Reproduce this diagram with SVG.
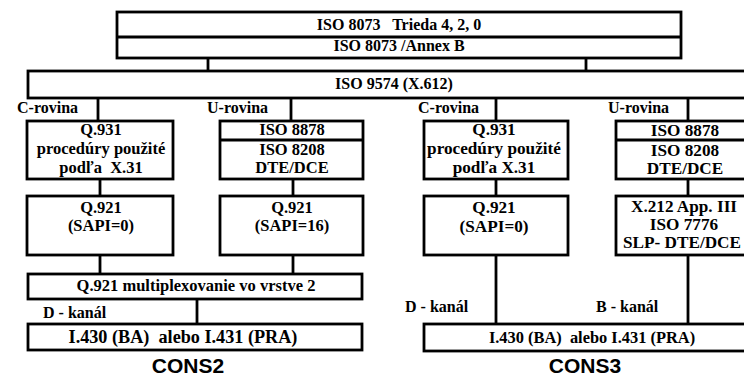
<svg xmlns="http://www.w3.org/2000/svg" width="744" height="379" viewBox="0 0 744 379">
  <style>
    .box { fill: #fff; stroke: #000; stroke-width: 2.8; }
    .rule { stroke: #000; stroke-width: 2.8; fill: none; }
    .link { stroke: #000; stroke-width: 2.8; fill: none; }
    text { font-family: "Liberation Serif", "Times New Roman", serif; font-weight: bold; font-size: 16px; fill: #000; white-space: pre; }
    .c { text-anchor: middle; }
    .l { font-size: 16.5px; }
    .r { font-size: 17.2px; }
    .title { font-family: "Liberation Sans", Arial, sans-serif; font-size: 21px; text-anchor: middle; }
  </style>

  <!-- connectors -->
  <g id="connectors">
    <line class="link" x1="208" y1="58" x2="208" y2="73"/>
    <line class="link" x1="586" y1="58" x2="586" y2="73"/>
    <line class="link" x1="98" y1="98" x2="98" y2="121"/>
    <line class="link" x1="291" y1="98" x2="291" y2="121"/>
    <line class="link" x1="496" y1="98" x2="496" y2="121"/>
    <line class="link" x1="688" y1="98" x2="688" y2="121"/>
    <line class="link" x1="100" y1="179" x2="100" y2="196"/>
    <line class="link" x1="293" y1="179" x2="293" y2="196"/>
    <line class="link" x1="496" y1="179" x2="496" y2="196"/>
    <line class="link" x1="688" y1="179" x2="688" y2="196"/>
    <line class="link" x1="100" y1="255" x2="100" y2="274"/>
    <line class="link" x1="293" y1="255" x2="293" y2="274"/>
    <line class="link" x1="197" y1="299" x2="197" y2="324"/>
    <line class="link" x1="496" y1="255" x2="496" y2="324"/>
    <line class="link" x1="688" y1="255" x2="688" y2="324"/>
  </g>

  <!-- transport layer -->
  <g id="iso8073">
    <rect class="box" x="117" y="12" width="564" height="46"/>
    <line class="rule" x1="117" y1="37" x2="681" y2="37"/>
    <text class="c" x="399" y="30">ISO 8073   Trieda 4, 2, 0</text>
    <text class="c" x="399" y="51">ISO 8073 /Annex B</text>
  </g>

  <g id="iso9574">
    <rect class="box" x="28" y="71" width="730" height="27"/>
    <text class="c" x="394" y="89">ISO 9574 (X.612)</text>
  </g>

  <!-- plane labels -->
  <g id="labels">
    <text x="17" y="113">C-rovina</text>
    <text x="207" y="113">U-rovina</text>
    <text x="418" y="113">C-rovina</text>
    <text x="608" y="113">U-rovina</text>
    <text x="43" y="318">D - kanál</text>
    <text x="405" y="312">D - kanál</text>
    <text x="596" y="312">B - kanál</text>
  </g>

  <!-- CONS2 stack -->
  <g id="q931-a">
    <rect class="box" x="27" y="121" width="146" height="58"/>
    <text class="c l" x="101" y="135">Q.931</text>
    <text class="c l" x="101" y="154">procedúry použité</text>
    <text class="c l" x="101" y="173">podľa  X.31</text>
  </g>
  <g id="iso8878-a">
    <rect class="box" x="220" y="121" width="143" height="58"/>
    <line class="rule" x1="220" y1="140" x2="363" y2="140"/>
    <text class="c l" x="292" y="135">ISO 8878</text>
    <text class="c l" x="292" y="155">ISO 8208</text>
    <text class="c l" x="292" y="173">DTE/DCE</text>
  </g>
  <g id="q921-a">
    <rect class="box" x="27" y="196" width="146" height="59"/>
    <text class="c l" x="101" y="213">Q.921</text>
    <text class="c l" x="101" y="231">(SAPI=0)</text>
  </g>
  <g id="q921-b">
    <rect class="box" x="220" y="196" width="143" height="59"/>
    <text class="c l" x="292" y="213">Q.921</text>
    <text class="c l" x="292" y="231">(SAPI=16)</text>
  </g>
  <g id="mux">
    <rect class="box" x="28" y="274" width="334" height="25"/>
    <text class="c l" x="196" y="291">Q.921 multiplexovanie vo vrstve 2</text>
  </g>
  <g id="phy-a">
    <rect class="box" x="28" y="324" width="334" height="26"/>
    <text class="c" x="183" y="343" style="font-size:18.2px">I.430 (BA)  alebo I.431 (PRA)</text>
  </g>
  <text id="cons2" class="title" x="188" y="373">CONS2</text>

  <!-- CONS3 stack -->
  <g id="q931-b">
    <rect class="box" x="424" y="121" width="144" height="58"/>
    <text class="c r" x="494" y="135">Q.931</text>
    <text class="c r" x="494" y="154">procedúry použité</text>
    <text class="c r" x="494" y="173">podľa X.31</text>
  </g>
  <g id="iso8878-b">
    <rect class="box" x="616" y="121" width="140" height="58"/>
    <line class="rule" x1="616" y1="140" x2="756" y2="140"/>
    <text class="c r" x="685" y="136">ISO 8878</text>
    <text class="c r" x="685" y="156">ISO 8208</text>
    <text class="c r" x="685" y="174">DTE/DCE</text>
  </g>
  <g id="q921-c">
    <rect class="box" x="424" y="196" width="144" height="59"/>
    <text class="c r" x="494" y="213">Q.921</text>
    <text class="c r" x="494" y="232">(SAPI=0)</text>
  </g>
  <g id="x212">
    <rect class="box" x="616" y="196" width="140" height="59"/>
    <text class="c r" x="684" y="212">X.212 App. III</text>
    <text class="c r" x="684" y="230">ISO 7776</text>
    <text class="c r" x="682" y="248">SLP- DTE/DCE</text>
  </g>
  <g id="phy-b">
    <rect class="box" x="424" y="324" width="332" height="27"/>
    <text class="c" x="592" y="343" style="font-size:16.4px">I.430 (BA)  alebo I.431 (PRA)</text>
  </g>
  <text id="cons3" class="title" x="585" y="373">CONS3</text>
</svg>
